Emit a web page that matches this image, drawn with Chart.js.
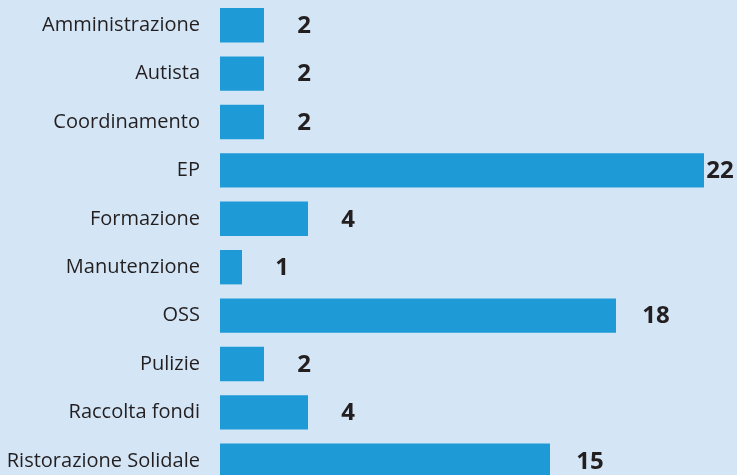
<!DOCTYPE html>
<html><head><meta charset="utf-8">
<script src="https://cdn.jsdelivr.net/npm/chart.js@4"></script>
<style>html,body{margin:0;padding:0;background:#d4e6f6;overflow:hidden;width:737px;height:475px}canvas{display:block}</style>
</head><body><canvas id="c" width="737" height="486"></canvas>
<script>
const categories = ["Amministrazione","Autista","Coordinamento","EP","Formazione","Manutenzione","OSS","Pulizie","Raccolta fondi","Ristorazione Solidale"];
const values = [2,2,2,22,4,1,18,2,4,15];
const xMin = 0;
const xMax = 23.5;

const bgPlugin = {
  id: 'bg',
  beforeDraw(chart) {
    const ctx = chart.ctx;
    ctx.save();
    ctx.fillStyle = '#d4e6f6';
    ctx.fillRect(0, 0, chart.width, chart.height);
    ctx.restore();
  }
};
const valuePlugin = {
  id: 'vals',
  afterDatasetsDraw(chart) {
    const ctx = chart.ctx;
    const meta = chart.getDatasetMeta(0);
    ctx.save();
    ctx.fillStyle = '#231f20';
    ctx.font = 'bold 24px "Open Sans"';
    ctx.textAlign = 'center';
    ctx.textBaseline = 'middle';
    meta.data.forEach((bar, i) => {
      const cx = Math.min(bar.x + 40, chart.width - 17);
      ctx.fillText(String(values[i]), cx, bar.y + 1);
    });
    ctx.restore();
  }
};

new Chart(document.getElementById('c'), {
  type: 'bar',
  data: {
    labels: categories,
    datasets: [{
      data: values,
      backgroundColor: '#1e9ad6',
      borderWidth: 0,
      categoryPercentage: 1,
      barPercentage: 0.71
    }]
  },
  options: {
    indexAxis: 'y',
    responsive: false,
    animation: false,
    devicePixelRatio: 1,
    layout: { padding: { top: 1, bottom: 1, left: 0, right: 0 } },
    plugins: { legend: { display: false }, tooltip: { enabled: false } },
    scales: {
      x: { display: false, min: xMin, max: xMax },
      y: {
        grid: { display: false, drawTicks: false },
        border: { display: false },
        ticks: { color: '#231f20', font: { family: 'Open Sans', size: 20 }, padding: 20, autoSkip: false },
        afterFit(s) { s.width = 220; s.paddingTop = 0; s.paddingBottom = 0; }
      }
    }
  },
  plugins: [bgPlugin, valuePlugin]
});
</script></body></html>
